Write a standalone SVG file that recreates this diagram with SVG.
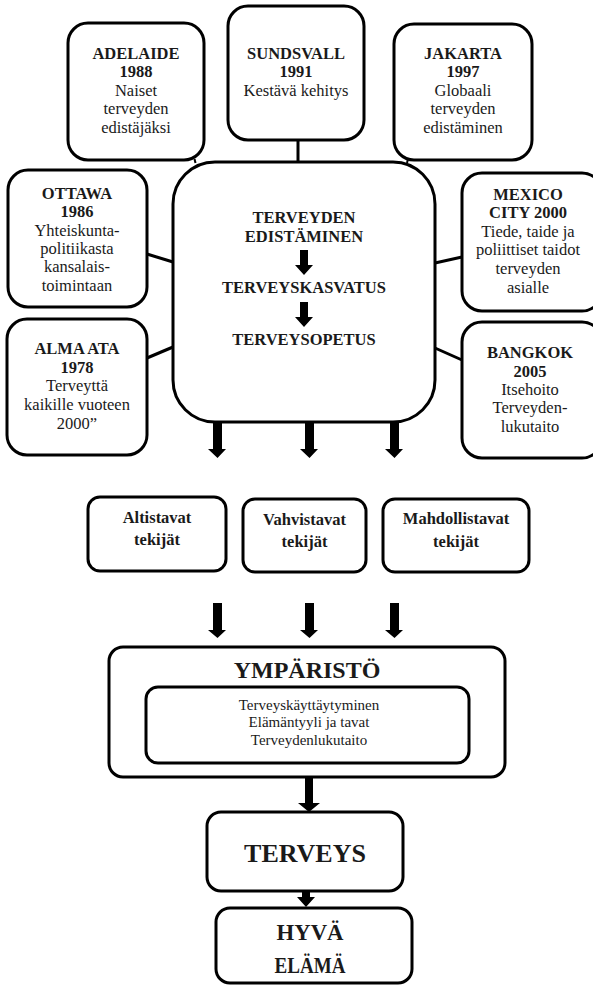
<svg xmlns="http://www.w3.org/2000/svg" width="593" height="986" viewBox="0 0 593 986">
<style>
  .box { fill: #fff; stroke: #000; stroke-width: 3; }
  .link { stroke: #000; stroke-width: 3; fill: none; }
  .arrow { fill: #000; stroke: none; }
  text { font-family: "Liberation Serif", "DejaVu Serif", serif; fill: #1a1a1a; text-anchor: middle; }
  .b { font-weight: bold; font-size: 16.5px; }
  .r { font-size: 16.5px; }
  .s { font-size: 15px; }
  .big { font-weight: bold; font-size: 24px; }
  .huge { font-weight: bold; font-size: 26px; }
</style>

<g id="connectors">
  <line class="link" x1="298" y1="140" x2="298" y2="162"/>
  <line class="link" x1="147" y1="254" x2="173" y2="262"/>
  <line class="link" x1="147" y1="358" x2="173" y2="347"/>
  <line class="link" x1="435" y1="263" x2="462" y2="257"/>
  <line class="link" x1="435" y1="348" x2="462" y2="360"/>
  <line class="link" x1="194.5" y1="159" x2="195.5" y2="163" style="stroke-width:2"/>
  <line class="link" x1="408" y1="159" x2="407" y2="163" style="stroke-width:2"/>
  <path class="arrow" d="M213,422 H222 V449 H226 L217.5,458 L208,449 H213 Z"/>
  <path class="arrow" d="M305,422 H314 V449 H318 L309.5,458 L300,449 H305 Z"/>
  <path class="arrow" d="M390,422 H399 V449 H403 L394.5,458 L385,449 H390 Z"/>
  <path class="arrow" d="M213,603 H222 V630 H226 L217.5,638 L208,630 H213 Z"/>
  <path class="arrow" d="M305,603 H314 V630 H318 L309.5,638 L300,630 H305 Z"/>
  <path class="arrow" d="M390,603 H399 V630 H403 L394.5,638 L385,630 H390 Z"/>
  <path class="arrow" d="M305,777 H313 V803 H320 L309,812 L298,803 H305 Z"/>
  <path class="arrow" d="M302,891 H310 V897 H315 L306,907 L297,897 H302 Z"/>
</g>

<g id="adelaide">
  <rect class="box" x="68" y="23" width="136" height="137" rx="20"/>
  <text class="b" x="136" y="59">ADELAIDE</text>
  <text class="b" x="136" y="77">1988</text>
  <text class="r" x="136" y="96">Naiset</text>
  <text class="r" x="136" y="114">terveyden</text>
  <text class="r" x="136" y="133">edistäjäksi</text>
</g>

<g id="sundsvall">
  <rect class="box" x="228" y="6" width="136" height="134" rx="20"/>
  <text class="b" x="296" y="59">SUNDSVALL</text>
  <text class="b" x="296" y="77">1991</text>
  <text class="r" x="296" y="96">Kestävä kehitys</text>
</g>

<g id="jakarta">
  <rect class="box" x="394" y="24" width="138" height="136" rx="20"/>
  <text class="b" x="463" y="59">JAKARTA</text>
  <text class="b" x="463" y="77">1997</text>
  <text class="r" x="463" y="96">Globaali</text>
  <text class="r" x="463" y="114">terveyden</text>
  <text class="r" x="463" y="133">edistäminen</text>
</g>

<g id="ottawa">
  <rect class="box" x="8" y="170" width="139" height="137" rx="20"/>
  <text class="b" x="77" y="199">OTTAWA</text>
  <text class="b" x="77" y="217">1986</text>
  <text class="r" x="77" y="236">Yhteiskunta-</text>
  <text class="r" x="77" y="254">politiikasta</text>
  <text class="r" x="77" y="272">kansalais-</text>
  <text class="r" x="77" y="291">toimintaan</text>
</g>

<g id="almaata">
  <rect class="box" x="7" y="319" width="140" height="136" rx="20"/>
  <text class="b" x="77" y="354">ALMA ATA</text>
  <text class="b" x="77" y="373">1978</text>
  <text class="r" x="77" y="391">Terveyttä</text>
  <text class="r" x="77" y="410">kaikille vuoteen</text>
  <text class="r" x="77" y="429">2000”</text>
</g>

<g id="mexico">
  <rect class="box" x="462" y="173" width="140" height="138" rx="20"/>
  <text class="b" x="528" y="200">MEXICO</text>
  <text class="b" x="528" y="218">CITY 2000</text>
  <text class="r" x="528" y="237">Tiede, taide ja</text>
  <text class="r" x="528" y="255">poliittiset taidot</text>
  <text class="r" x="528" y="274">terveyden</text>
  <text class="r" x="528" y="293">asialle</text>
</g>

<g id="bangkok">
  <rect class="box" x="462" y="322" width="140" height="136" rx="20"/>
  <text class="b" x="530" y="358">BANGKOK</text>
  <text class="b" x="530" y="377">2005</text>
  <text class="r" x="530" y="395">Itsehoito</text>
  <text class="r" x="530" y="413">Terveyden-</text>
  <text class="r" x="530" y="432">lukutaito</text>
</g>

<g id="central">
  <rect class="box" x="173" y="162" width="262" height="260" rx="42"/>
  <text class="b" x="304" y="223">TERVEYDEN</text>
  <text class="b" x="304" y="242">EDISTÄMINEN</text>
  <path class="arrow" d="M300,250 H308 V265 H313 L304,275 L295,265 H300 Z"/>
  <text class="b" x="304" y="293">TERVEYSKASVATUS</text>
  <path class="arrow" d="M300,302 H308 V317 H313 L304,327 L295,317 H300 Z"/>
  <text class="b" x="304" y="345">TERVEYSOPETUS</text>
</g>

<g id="altistavat">
  <rect class="box" x="88" y="497" width="138" height="74" rx="12"/>
  <text class="b" x="157" y="523">Altistavat</text>
  <text class="b" x="157" y="545">tekijät</text>
</g>

<g id="vahvistavat">
  <rect class="box" x="243" y="499" width="123" height="73" rx="12"/>
  <text class="b" x="304.5" y="525">Vahvistavat</text>
  <text class="b" x="304.5" y="547">tekijät</text>
</g>

<g id="mahdollistavat">
  <rect class="box" x="383" y="499" width="146" height="73" rx="12"/>
  <text class="b" x="456" y="524">Mahdollistavat</text>
  <text class="b" x="456" y="547">tekijät</text>
</g>

<g id="ymparisto">
  <rect class="box" x="109" y="647" width="396" height="130" rx="14"/>
  <text class="big" x="307" y="678">YMPÄRISTÖ</text>
  <rect class="box" x="146" y="687" width="323" height="76" rx="12"/>
  <text class="s" x="309" y="710">Terveyskäyttäytyminen</text>
  <text class="s" x="309" y="727">Elämäntyyli ja tavat</text>
  <text class="s" x="309" y="745">Terveydenlukutaito</text>
</g>

<g id="terveys">
  <rect class="box" x="207" y="812" width="196" height="79" rx="14"/>
  <text class="huge" x="305" y="862">TERVEYS</text>
</g>

<g id="hyvaelama">
  <rect class="box" x="216" y="908" width="196" height="75" rx="14"/>
  <text class="big" x="310" y="940" textLength="67" lengthAdjust="spacingAndGlyphs">HYVÄ</text>
  <text class="big" x="310" y="973" textLength="71" lengthAdjust="spacingAndGlyphs">ELÄMÄ</text>
</g>
</svg>
